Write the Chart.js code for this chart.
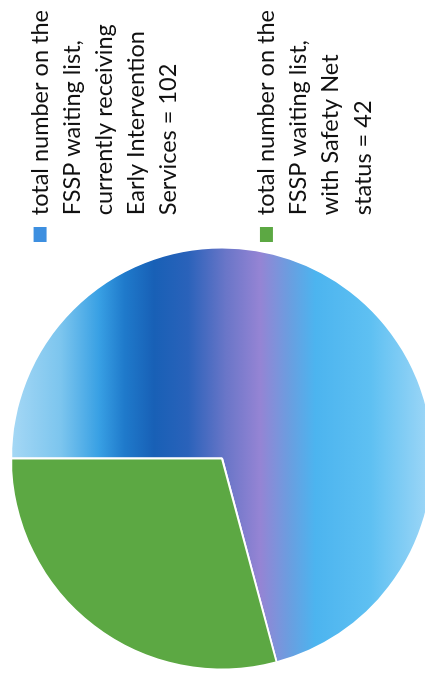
<!DOCTYPE html>
<html>
<head>
<meta charset="utf-8">
<script src="https://cdn.jsdelivr.net/npm/chart.js@4/dist/chart.umd.min.js"></script>
<style>
    html, body { margin: 0; padding: 0; background: #fff; }
    body { width: 425px; height: 681px; overflow: hidden; position: relative; }
    /* page is laid out sideways, so the chart is drawn upright and turned */
    #wrap {
        position: absolute; left: 0; top: 0;
        width: 681px; height: 445px;
        transform-origin: 0 0;
        transform: translate(0, 681px) rotate(-90deg);
    }
</style>
</head>
<body>
<div id="wrap"><canvas id="pieChart" width="681" height="445"></canvas></div>
<script>
// FSSP waiting list counts
var counts = [102, 42];

var labelLines = [
    ['total number on the', 'FSSP waiting list,', 'currently receiving', 'Early Intervention', 'Services = ' + counts[0]],
    ['total number on the', 'FSSP waiting list,', 'with Safety Net', 'status = ' + counts[1]]
];

// blank lines keep the two legend entries spread apart
var labelGap = [2, 1];

var greenColor = '#5ca843';
var markerColors = ['#3d8fe0', '#5ca843'];

// banded blue fill across the pie
var blueStops = [
    [0.00, '#a6d8f5'],
    [0.12, '#7cc5ee'],
    [0.21, '#38a0e4'],
    [0.27, '#1f7acb'],
    [0.34, '#1860b6'],
    [0.42, '#2a62ba'],
    [0.51, '#6a76c8'],
    [0.59, '#9584d4'],
    [0.66, '#6a9ee0'],
    [0.72, '#4cb4ef'],
    [0.85, '#5ec0f2'],
    [1.00, '#a2d8f7']
];

function blueFill(chart) {
    var area = chart.chartArea;
    if (!area) {
        return '#3a8fd8';
    }
    var g = chart.ctx.createLinearGradient(0, area.top, 0, area.bottom);
    blueStops.forEach(function (s) {
        g.addColorStop(s[0], s[1]);
    });
    return g;
}

var legendText = labelLines.map(function (lines, i) {
    var out = lines.slice();
    for (var k = 0; k < labelGap[i]; k++) out.push('');
    return out;
});

var ctx = document.getElementById('pieChart').getContext('2d');
var pieChart = new Chart(ctx, {
    type: 'pie',
    data: {
        labels: legendText,
        datasets: [{
            data: counts,
            backgroundColor: function (context) {
                return context.dataIndex === 0 ? blueFill(context.chart) : greenColor;
            },
            borderColor: '#ffffff',
            borderWidth: 2
        }]
    },
    options: {
        responsive: false,
        devicePixelRatio: 1,
        animation: false,
        layout: {
            padding: { left: 7, top: 10, right: 0, bottom: 11 }
        },
        plugins: {
            tooltip: { enabled: false },
            legend: {
                position: 'right',
                align: 'center',
                maxWidth: 250,
                labels: {
                    boxWidth: 15,
                    boxHeight: 13,
                    padding: 1,
                    color: '#111',
                    font: { family: 'Lato', size: 23.5, lineHeight: 1.37 },
                    // plain swatches, no white outline
                    generateLabels: function (chart) {
                        var items = Chart.overrides.pie.plugins.legend.labels.generateLabels(chart);
                        items.forEach(function (item, i) {
                            item.fillStyle = markerColors[i];
                            item.lineWidth = 0;
                        });
                        return items;
                    }
                }
            }
        }
    }
});
</script>
</body>
</html>
